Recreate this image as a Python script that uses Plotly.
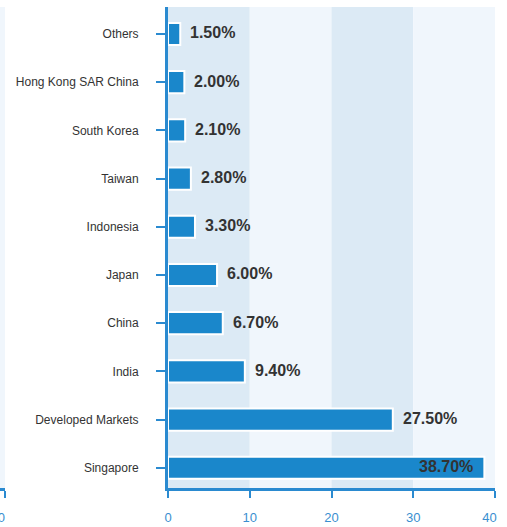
import plotly.graph_objects as go

# Country allocation (%), listed bottom to top
countries = ["Singapore", "Developed Markets", "India", "China", "Japan",
             "Indonesia", "Taiwan", "South Korea", "Hong Kong SAR China", "Others"]
weights = [38.70, 27.50, 9.40, 6.70, 6.00, 3.30, 2.80, 2.10, 2.00, 1.50]

x_ticks = [0, 10, 20, 30, 40]
band_edges = [0, 10, 20, 30, 40]
band_colors = ["#dceaf5", "#f0f6fc", "#dceaf5", "#f0f6fc"]

BLUE = "#1a87cb"
AXIS = "#2a8ad0"
TEXT = "#333333"
FONT = "Liberation Sans, Arial, sans-serif"

W, H = 507, 527
plot_right = 495
left_px = 168

fig = go.Figure()

fig.add_trace(go.Bar(
    x=weights, y=countries, orientation="h",
    marker=dict(color=BLUE, line=dict(color="white", width=2)),
    hoverinfo="skip", xaxis="x", yaxis="y",
))

# Invisible trace for the neighbouring facet's axis
fig.add_trace(go.Scatter(x=[40], y=[0], mode="markers", marker=dict(opacity=0),
                         hoverinfo="skip", xaxis="x2", yaxis="y2", showlegend=False))

shapes = []
for i in range(len(band_colors)):
    shapes.append(dict(type="rect", xref="x", yref="y domain",
                       x0=band_edges[i], x1=band_edges[i + 1], y0=0, y1=1,
                       fillcolor=band_colors[i], line=dict(width=0), layer="below"))
shapes.append(dict(type="rect", xref="x2", yref="y2 domain",
                   x0=30, x1=40, y0=0, y1=1,
                   fillcolor=band_colors[-1], line=dict(width=0), layer="below"))

annotations = []
for c, v in zip(countries, weights):
    inside = v > 35
    annotations.append(dict(
        x=v, y=c, xref="x", yref="y", text=f"{v:.2f}%", showarrow=False,
        xanchor="right" if inside else "left", yshift=1,
        xshift=-9 if inside else 8,
        font=dict(family=FONT, size=16, color=TEXT, weight="bold"),
    ))

tick_text = [str(t) for t in x_ticks]
tick_text[-1] = "40\u00a0\u00a0\u00a0"

fig.update_layout(
    width=W, height=H,
    margin=dict(l=0, r=W - plot_right, t=7, b=39, autoexpand=False),
    paper_bgcolor="white", plot_bgcolor="white",
    showlegend=False, bargap=0.54,
    font=dict(family=FONT, color=TEXT),
    shapes=shapes, annotations=annotations,
    xaxis=dict(
        domain=[left_px / plot_right, 1], range=[0, 40],
        tickvals=x_ticks, ticktext=tick_text,
        showgrid=False, zeroline=False,
        showline=True, linecolor=AXIS, linewidth=3,
        ticks="outside", ticklen=7, tickwidth=2, tickcolor=AXIS,
        tickfont=dict(size=13, color="#3a8fd0", family=FONT),
        ticklabelstandoff=8,
        ticklabeloverflow="allow", automargin=False,
        anchor="y",
    ),
    yaxis=dict(
        categoryorder="array", categoryarray=countries,
        range=[-0.42, 9.56],
        showgrid=False, zeroline=False,
        showline=True, linecolor=AXIS, linewidth=3,
        ticks="outside", ticklen=9, tickwidth=2, tickcolor=AXIS,
        tickfont=dict(size=12, color=TEXT, family=FONT),
        ticklabelstandoff=15, automargin=False,
        anchor="x",
    ),
    xaxis2=dict(
        domain=[0, 5 / plot_right], range=[39, 40],
        tickvals=[40], ticktext=["40\u00a0\u00a0\u00a0\u00a0"],
        showgrid=False, zeroline=False,
        showline=True, linecolor=AXIS, linewidth=3,
        ticks="outside", ticklen=7, tickwidth=2, tickcolor=AXIS,
        tickfont=dict(size=13, color="#3a8fd0", family=FONT),
        ticklabelstandoff=8,
        ticklabeloverflow="allow", automargin=False,
        anchor="y2",
    ),
    yaxis2=dict(
        range=[0, 1], visible=False, anchor="x2", automargin=False,
    ),
)

fig.write_html("out.html")
